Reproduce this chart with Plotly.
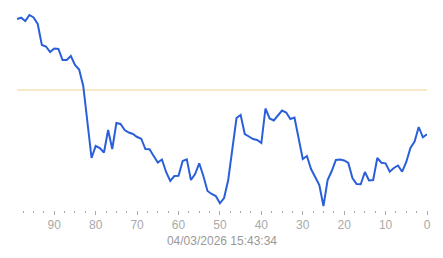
import plotly.graph_objects as go

# x positions (seconds ago), 99 down to 0
x_vals = list(range(99, -1, -1))
# values (index aligned with x_vals)
y_px = [19, 17.7, 21, 15, 17.5, 24, 45, 46.5, 52, 48.5,
        49, 60, 60, 56, 65, 69.5, 86, 121, 158, 146,
        148, 152.5, 130, 149, 123, 124, 130, 132.5, 134, 137,
        138.7, 149, 149.3, 156, 162.5, 159.5, 172, 181, 176, 175.7,
        161, 159.3, 180, 174, 163.3, 176, 191, 194, 196, 203.3,
        198, 180, 148, 118, 115, 134, 136.5, 139, 140, 143,
        108.5, 118.5, 120.5, 115, 110.5, 112.5, 119, 117.5, 138, 159,
        156, 169, 177, 185, 206, 180, 171, 160, 159.5, 160.5,
        163, 178, 184, 184.3, 172, 180.5, 180, 158, 162.7, 163.3,
        171.7, 168, 165.5, 171.7, 162, 148, 141.5, 127, 137.3, 134.3]
values = [210 - v for v in y_px]
threshold = 120
x_ticks = [90, 80, 70, 60, 50, 40, 30, 20, 10, 0]
title_text = "04/03/2026 15:43:34"

fig = go.Figure()
fig.add_trace(go.Scatter(x=[x_vals[0], x_vals[-1]], y=[threshold, threshold],
                         mode="lines", line=dict(color="#f0d48c", width=1),
                         hoverinfo="skip", showlegend=False))
fig.add_trace(go.Scatter(x=x_vals, y=values, mode="lines",
                         line=dict(color="#2b5fd9", width=2),
                         showlegend=False))

fig.update_layout(
    width=443, height=258,
    margin=dict(l=17, r=16, t=10, b=48),
    paper_bgcolor="white", plot_bgcolor="white",
    font=dict(family="Liberation Sans, Arial", size=12, color="#999999"),
    xaxis=dict(range=[99, 0], showgrid=False, zeroline=False, showline=False,
               tickmode="array", tickvals=x_ticks, ticktext=[str(t) for t in x_ticks],
               ticks="outside", ticklen=4, tickwidth=1, tickcolor="#aaaaaa",
               tickfont=dict(size=12, color="#aaaaaa"),
               minor=dict(dtick=2.5, tick0=0, ticks="outside", ticklen=2,
                          tickcolor="#aaaaaa", showgrid=False),
               title=dict(text=title_text, standoff=5,
                          font=dict(size=12, color="#999999"))),
    yaxis=dict(range=[0, 200], visible=False, showgrid=False, zeroline=False),
)
fig.write_html("out.html")
